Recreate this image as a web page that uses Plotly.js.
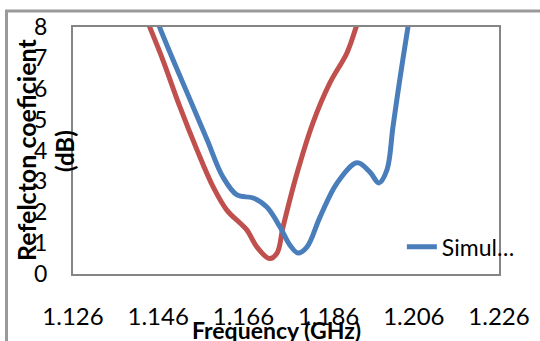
<!DOCTYPE html>
<html>
<head>
<meta charset="utf-8">
<script src="https://cdn.plot.ly/plotly-3.0.1.min.js"></script>
<style>
html,body{margin:0;padding:0;background:#fff;}
#chart{width:540px;height:341px;}
</style>
</head>
<body>
<div id="chart"></div>
<script>
// Frequency (GHz) and reflection coefficient values
const blueFreq = [1.1455, 1.1464, 1.1495, 1.1535, 1.1575, 1.1612, 1.1645, 1.1683, 1.1715, 1.1746, 1.1769, 1.1788, 1.1809, 1.1840, 1.1880, 1.1927, 1.1957, 1.1978, 1.1997, 1.2011, 1.2028, 1.2046, 1.2052];
const blueVals = [8.31, 7.97, 6.93, 5.64, 4.34, 3.14, 2.56, 2.46, 2.17, 1.52, 0.94, 0.68, 0.87, 1.85, 2.95, 3.60, 3.30, 2.95, 3.37, 4.76, 6.38, 7.97, 8.5];
const redFreq = [1.1432, 1.1441, 1.1471, 1.1511, 1.1551, 1.1589, 1.1621, 1.1652, 1.1668, 1.1692, 1.1721, 1.1739, 1.1753, 1.1786, 1.1823, 1.1863, 1.1903, 1.1924, 1.1932];
const redVals = [8.3, 7.97, 6.93, 5.41, 4.02, 2.82, 2.07, 1.65, 1.43, 0.87, 0.5, 0.68, 1.52, 3.27, 4.89, 6.19, 7.16, 7.97, 8.3];
const xTicks = [1.126, 1.146, 1.166, 1.186, 1.206, 1.226];
const xTickText = ["1.126", "1.146", "1.166", "1.186", "1.206", "1.226"];
const yTicks = [0, 1, 2, 3, 4, 5, 6, 7, 8];
const yTickText = ["0", "1", "2", "3", "4", "5", "6", "7", "8"];
const seriesName = "Simul\u2026";

const FONT = "Lato, 'Open Sans', sans-serif";

const traces = [
  {x: redFreq, y: redVals, type: 'scatter', mode: 'lines', name: 'Measured',
   line: {color: '#C0504D', width: 5, shape: 'spline', smoothing: 1}, showlegend: false, hoverinfo: 'skip'},
  {x: blueFreq, y: blueVals, type: 'scatter', mode: 'lines', name: seriesName,
   line: {color: '#4A7EBB', width: 5, shape: 'spline', smoothing: 1}, hoverinfo: 'skip'}
];

const layout = {
  width: 540, height: 341,
  margin: {l: 73, r: 41, t: 27, b: 67},
  paper_bgcolor: '#ffffff', plot_bgcolor: '#ffffff',
  font: {family: FONT, color: '#000', size: 22},
  showlegend: true,
  legend: {x: 0.772, y: 0.11, xanchor: 'left', yanchor: 'middle', bgcolor: 'rgba(0,0,0,0)',
           font: {family: FONT, size: 23, color: '#000'}, borderwidth: 0},
  xaxis: {range: [1.126, 1.226], tickmode: 'array', tickvals: xTicks, ticktext: xTickText,
          showgrid: false, zeroline: false, ticks: '', showline: true, mirror: true,
          linecolor: '#858585', linewidth: 2, ticklabelstandoff: 20,
          tickfont: {family: FONT, size: 24, color: '#000'}},
  yaxis: {range: [0, 8], tickmode: 'array', tickvals: yTicks, ticktext: yTickText,
          showgrid: false, zeroline: false, ticks: '',
          showline: true, mirror: true, linecolor: '#858585', linewidth: 2, ticklabelstandoff: 19,
          tickfont: {family: FONT, size: 23, color: '#000'}},
  annotations: [
    {text: '<b>Refelcton coeficient</b>', xref: 'paper', yref: 'paper', x: (26 - 73) / 426, y: (274 - 150) / 247,
     xanchor: 'center', yanchor: 'middle', textangle: -90, showarrow: false,
     font: {family: FONT, size: 25, color: '#000'}},
    {text: '<b>(dB)</b>', xref: 'paper', yref: 'paper', x: (64 - 73) / 426, y: (274 - 151) / 247,
     xanchor: 'center', yanchor: 'middle', textangle: -90, showarrow: false,
     font: {family: FONT, size: 24, color: '#000'}},
    {text: '<b>Frequency (GHz)</b>', xref: 'paper', yref: 'paper', x: (276 - 73) / 426, y: (274 - 330) / 247,
     xanchor: 'center', yanchor: 'middle', showarrow: false,
     font: {family: FONT, size: 23, color: '#000'}}
  ],
  shapes: [
    {type: 'rect', xref: 'paper', yref: 'paper', x0: (6.5 - 73) / 426, x1: (560 - 73) / 426,
     y0: (274 - 360) / 247, y1: (274 - 11) / 247, line: {color: '#9a9a9a', width: 3}, layer: 'below'}
  ]
};

Plotly.newPlot('chart', traces, layout, {staticPlot: true, displayModeBar: false});
</script>
</body>
</html>
